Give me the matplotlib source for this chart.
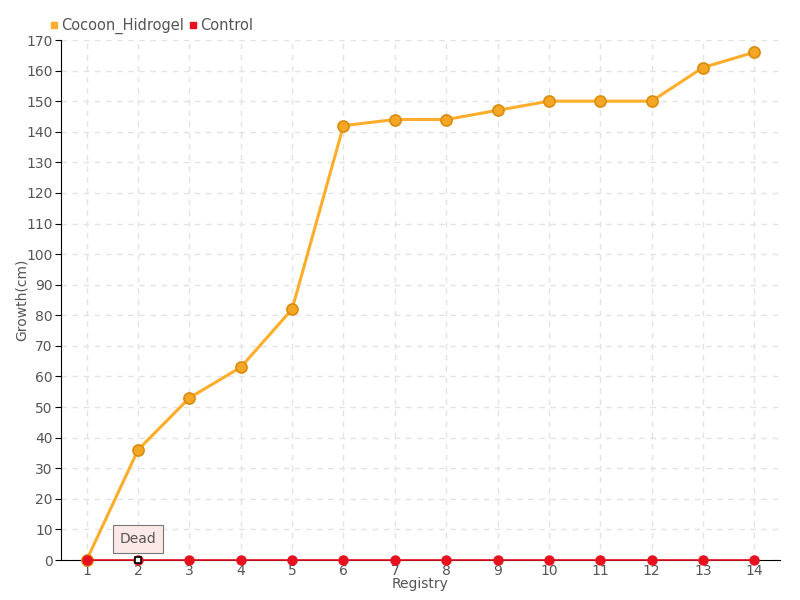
import matplotlib
matplotlib.use('Agg')
import matplotlib.pyplot as plt
from matplotlib.lines import Line2D

registry = ['1', '2', '3', '4', '5', '6', '7', '8', '9', '10', '11', '12', '13', '14']
cocoon = [0, 36, 53, 63, 82, 142, 144, 144, 147, 150, 150, 150, 161, 166]
control = [0, 0, 0, 0, 0, 0, 0, 0, 0, 0, 0, 0, 0, 0]

orange = '#ffad2a'
red = '#e8101f'
txt = '#555555'

plt.rcParams['font.family'] = ['DejaVu Sans']

fig = plt.figure(figsize=(8, 6), dpi=100)
ax = fig.add_axes([61/800, 40/600, 719/800, 520/600])
x = list(range(len(registry)))

ax.plot(x, cocoon, color=orange, linewidth=2.2, marker='o', markersize=8,
        markerfacecolor='#f5a623', markeredgecolor='#d98c0f', markeredgewidth=1.2,
        zorder=5, clip_on=False)
ax.plot(x, control, color=red, linewidth=1.2, marker='o', markersize=6.5,
        markerfacecolor=red, markeredgecolor=red, zorder=6, clip_on=False)
# highlighted point (tooltip)
ax.plot([1], [control[1]], marker='s', markersize=5, markerfacecolor='white',
        markeredgecolor='black', markeredgewidth=1.2, linestyle='none', zorder=7, clip_on=False)
ax.annotate('Dead', xy=(1, control[1]), xytext=(1, 7), ha='center', va='center',
            fontsize=10, color=txt, zorder=8,
            bbox=dict(boxstyle='square,pad=0.5', facecolor='#fde8e8', edgecolor='#777777', linewidth=0.8))

ax.set_xlim(-0.5, len(registry) - 0.5)
ax.set_ylim(0, 170)
ax.set_xticks(x)
ax.set_xticklabels(registry)
ax.set_yticks(range(0, 171, 10))
ax.grid(True, color='#e3e3e3', linestyle=(0, (4, 4)), linewidth=1)
ax.set_axisbelow(True)
for s in ['top', 'right']:
    ax.spines[s].set_visible(False)
ax.spines['left'].set_color('black')
ax.spines['bottom'].set_color('black')
ax.tick_params(axis='y', length=4, color='black', labelcolor=txt, labelsize=10, pad=2)
ax.tick_params(axis='x', length=0, labelcolor=txt, labelsize=10, pad=3)
ax.set_xlabel('Registry', color=txt, fontsize=10)
ax.xaxis.set_label_coords(0.5, -24/520, transform=ax.transAxes)
ax.xaxis.label.set_verticalalignment('center')
ax.set_ylabel('Growth(cm)', color=txt, fontsize=10)
ax.yaxis.set_label_coords(-32/719, 0.5, transform=ax.transAxes)

handles = [Line2D([], [], marker='s', color='none', markerfacecolor=orange, markeredgecolor=orange, markersize=4),
           Line2D([], [], marker='s', color='none', markerfacecolor=red, markeredgecolor=red, markersize=4)]
fig.legend(handles, ['Cocoon_Hidrogel', 'Control'], loc='upper left', bbox_to_anchor=(45/800, 1 - 12/600),
           ncol=2, frameon=False, fontsize=10.5, handlelength=0.5, handletextpad=0.2,
           columnspacing=0.4, labelcolor=txt, borderaxespad=0)

fig.savefig('out.png', dpi=100)
